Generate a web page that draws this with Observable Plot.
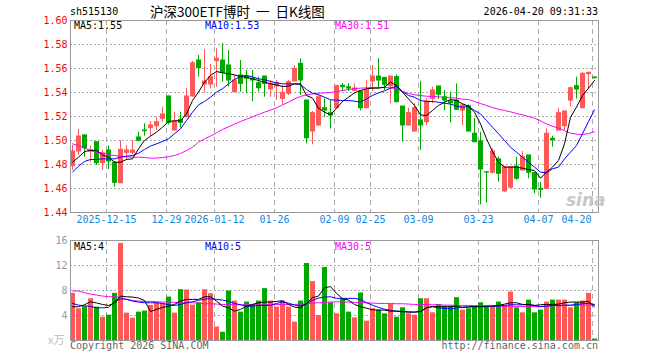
<!DOCTYPE html>
<html><head><meta charset="utf-8">
<script src="https://cdn.jsdelivr.net/npm/d3@7"></script>
<script src="https://cdn.jsdelivr.net/npm/@observablehq/plot@0.6"></script>
<style>
body{margin:0;background:#fff;}
#c{position:relative;width:660px;height:360px;overflow:hidden;background:#fff;font-family:"DejaVu Sans Mono",monospace;}
.t{position:absolute;white-space:pre;font-size:10px;line-height:12px;}
#main,#vol{position:absolute;left:0;}
#main{top:0px}
#vol{top:232px}
</style></head><body>
<div id="c">
  <div id="main"></div>
  <div id="vol"></div>
  <div class="t" style="left:70px;top:6px;color:#000">sh515130</div>
  <div class="t" style="left:150px;top:3px;font-size:13.5px;line-height:17px;font-family:'Noto Sans CJK SC',sans-serif;color:#000">沪深300ETF博时  一  日K线图</div>
  <div class="t" style="right:62px;top:6px;color:#000">2026-04-20 09:31:33</div>
  <div class="t" style="left:74px;top:20px;color:#000">MA5:1.55</div>
  <div class="t" style="left:205px;top:20px;color:#0000ff">MA10:1.53</div>
  <div class="t" style="left:335px;top:20px;color:#ff00ff">MA30:1.51</div>
  <div class="t" style="left:74px;top:241px;color:#000">MA5:4</div>
  <div class="t" style="left:205px;top:241px;color:#0000ff">MA10:5</div>
  <div class="t" style="left:335px;top:241px;color:#ff00ff">MA30:5</div>
  <div class="t" style="left:48px;top:333px;color:#bbb;font-family:'Noto Sans CJK SC',sans-serif;font-size:11px">x万</div>
  <div class="t" style="left:70px;top:340px;color:#666">Copyright 2026 SINA.COM</div>
  <div class="t" style="right:62px;top:340px;color:#666">http://finance.sina.com.cn</div>
  <div class="t" style="left:566px;top:190px;color:#c8c8c8;font-family:'DejaVu Sans',sans-serif;font-size:17px;line-height:20px;font-style:italic;font-weight:bold">sina</div>
</div>
<script>
// ---- data ----
const tickIdx = [6, 16, 24, 34, 44, 50, 58, 68, 78, 87];
const tickLabels = ["2025-12-15","12-29","2026-01-12","01-26","02-09","02-25","03-09","03-23","04-07","04-20"];
const priceTicks = [1.44,1.46,1.48,1.50,1.52,1.54,1.56,1.58,1.60];
const volTicks = [4,8,12,16];

const open = [1.4786,1.4908,1.5042,1.4908,1.4986,1.4811,1.4917,1.4814,1.4644,1.4897,
1.4897,1.5025,1.5083,1.5103,1.5119,1.5180,1.5367,1.5083,1.5172,1.5194,
1.5367,1.5667,1.5467,1.5467,1.5661,1.5667,1.5625,1.5403,1.5542,1.5528,
1.5514,1.5478,1.5533,1.5425,1.5450,1.5347,1.5389,1.5492,1.5639,1.5333,
1.5075,1.5125,1.5269,1.5228,1.5269,1.5456,1.5444,1.5414,1.5408,1.5269,
1.5492,1.5533,1.5522,1.5453,1.5528,1.5283,1.5125,1.5075,1.5167,1.5153,
1.5347,1.5450,1.5361,1.5325,1.5333,1.5250,1.5286,1.5056,1.4992,1.4736,
1.4731,1.4842,1.4575,1.4606,1.4783,1.4750,1.4875,1.4728,1.4597,1.4597,
1.5014,1.5083,1.5119,1.5333,1.5453,1.5269,1.5553,1.5525];
const high = [1.4958,1.5092,1.5050,1.4953,1.4990,1.4917,1.4953,1.4825,1.5000,1.4958,
1.5000,1.5069,1.5139,1.5158,1.5194,1.5278,1.5370,1.5236,1.5236,1.5436,
1.5658,1.5708,1.5758,1.5633,1.5764,1.5806,1.5750,1.5542,1.5667,1.5583,
1.5583,1.5528,1.5535,1.5500,1.5500,1.5458,1.5500,1.5625,1.5681,1.5336,
1.5242,1.5381,1.5347,1.5333,1.5460,1.5475,1.5472,1.5472,1.5410,1.5500,
1.5625,1.5681,1.5525,1.5535,1.5547,1.5285,1.5269,1.5306,1.5492,1.5347,
1.5444,1.5452,1.5417,1.5403,1.5472,1.5306,1.5297,1.5181,1.5069,1.4738,
1.4931,1.4861,1.4786,1.4780,1.4861,1.4908,1.4877,1.4730,1.4653,1.5097,
1.5036,1.5269,1.5245,1.5444,1.5528,1.5564,1.5569,1.5530];
const low = [1.4750,1.4875,1.4861,1.4819,1.4792,1.4750,1.4758,1.4611,1.4640,1.4833,
1.4880,1.4990,1.5036,1.5036,1.5083,1.5153,1.5128,1.5080,1.5103,1.5190,
1.5360,1.5528,1.5397,1.5431,1.5444,1.5486,1.5444,1.5400,1.5403,1.5389,
1.5325,1.5403,1.5361,1.5361,1.5333,1.5297,1.5375,1.5490,1.5375,1.4972,
1.4964,1.5120,1.5194,1.5097,1.5261,1.5408,1.5408,1.5410,1.5247,1.5265,
1.5408,1.5431,1.5417,1.5306,1.5314,1.4986,1.5120,1.5069,1.4917,1.5125,
1.5306,1.5342,1.5247,1.5147,1.5250,1.5125,1.5070,1.4981,1.4464,1.4478,
1.4719,1.4653,1.4569,1.4603,1.4667,1.4748,1.4681,1.4556,1.4519,1.4589,
1.4944,1.5080,1.5083,1.5278,1.5347,1.5265,1.5431,1.5515];
const close = [1.4908,1.5033,1.4936,1.4919,1.4811,1.4894,1.4825,1.4647,1.4922,1.4917,
1.4917,1.4997,1.5078,1.5125,1.5153,1.5217,1.5147,1.5158,1.5147,1.5367,
1.5644,1.5603,1.5492,1.5528,1.5681,1.5564,1.5500,1.5500,1.5472,1.5514,
1.5500,1.5436,1.5472,1.5472,1.5478,1.5397,1.5486,1.5597,1.5500,1.5019,
1.5228,1.5361,1.5250,1.5208,1.5453,1.5444,1.5433,1.5433,1.5269,1.5419,
1.5533,1.5500,1.5464,1.5533,1.5319,1.5125,1.5228,1.5269,1.5125,1.5325,
1.5417,1.5381,1.5333,1.5311,1.5256,1.5292,1.5075,1.4986,1.4758,1.4733,
1.4908,1.4722,1.4778,1.4778,1.4681,1.4861,1.4731,1.4592,1.4589,1.5056,
1.5003,1.5228,1.5242,1.5436,1.5425,1.5556,1.5564,1.5519];

const ma5 = [1.4819,1.4861,1.4908,1.4917,1.4917,1.4880,1.4861,1.4819,1.4819,1.4842,
1.4847,1.4931,1.5000,1.5036,1.5069,1.5111,1.5158,1.5164,1.5164,1.5222,
1.5333,1.5403,1.5486,1.5542,1.5575,1.5564,1.5556,1.5547,1.5533,1.5528,
1.5514,1.5500,1.5486,1.5472,1.5464,1.5450,1.5453,1.5472,1.5472,1.5375,
1.5353,1.5269,1.5236,1.5214,1.5269,1.5325,1.5361,1.5397,1.5417,1.5431,
1.5436,1.5436,1.5444,1.5486,1.5458,1.5403,1.5347,1.5292,1.5214,1.5208,
1.5250,1.5292,1.5319,1.5342,1.5333,1.5306,1.5286,1.5236,1.5139,1.5014,
1.4908,1.4819,1.4778,1.4778,1.4778,1.4769,1.4758,1.4750,1.4686,1.4736,
1.4778,1.4833,1.4972,1.5194,1.5278,1.5375,1.5436,1.5500];
const ma10 = [1.4736,1.4786,1.4825,1.4842,1.4842,1.4847,1.4847,1.4847,1.4861,1.4869,
1.4875,1.4894,1.4925,1.4953,1.4972,1.4992,1.5014,1.5056,1.5097,1.5167,
1.5236,1.5297,1.5325,1.5361,1.5403,1.5431,1.5472,1.5508,1.5536,1.5542,
1.5531,1.5514,1.5506,1.5492,1.5481,1.5472,1.5472,1.5472,1.5467,1.5425,
1.5394,1.5381,1.5361,1.5339,1.5336,1.5333,1.5333,1.5328,1.5319,1.5347,
1.5375,1.5397,1.5414,1.5436,1.5453,1.5408,1.5375,1.5361,1.5333,1.5325,
1.5325,1.5319,1.5311,1.5303,1.5286,1.5278,1.5283,1.5250,1.5222,1.5167,
1.5111,1.5056,1.5000,1.4944,1.4903,1.4861,1.4819,1.4778,1.4736,1.4731,
1.4764,1.4778,1.4847,1.4903,1.4958,1.5056,1.5158,1.5255];
const ma30 = [1.4972,1.4958,1.4936,1.4917,1.4903,1.4894,1.4881,1.4875,1.4869,1.4864,
1.4861,1.4861,1.4858,1.4853,1.4853,1.4858,1.4864,1.4875,1.4892,1.4917,
1.4944,1.4986,1.5014,1.5036,1.5064,1.5092,1.5114,1.5136,1.5158,1.5178,
1.5197,1.5217,1.5236,1.5253,1.5272,1.5297,1.5319,1.5347,1.5367,1.5381,
1.5389,1.5394,1.5397,1.5400,1.5408,1.5417,1.5425,1.5433,1.5436,1.5439,
1.5442,1.5442,1.5442,1.5439,1.5431,1.5408,1.5392,1.5381,1.5375,1.5369,
1.5367,1.5364,1.5358,1.5356,1.5353,1.5344,1.5342,1.5325,1.5308,1.5292,
1.5275,1.5261,1.5250,1.5239,1.5225,1.5214,1.5200,1.5186,1.5164,1.5139,
1.5119,1.5103,1.5081,1.5061,1.5053,1.5050,1.5058,1.5072];

const volume = [7.54,5.07,5.40,6.68,5.34,3.73,4.05,7.54,15.54,4.38,
3.57,4.54,4.70,5.61,6.04,5.93,6.95,4.38,8.13,8.08,
5.66,6.04,8.13,7.49,2.17,1.32,7.92,6.31,4.54,6.15,
5.77,6.31,8.30,6.31,5.34,6.31,5.34,2.93,6.31,12.32,
9.42,4.00,11.68,6.04,4.27,6.58,4.54,3.62,7.60,3.09,
5.07,4.86,4.27,5.77,3.73,5.23,4.27,4.05,6.68,6.68,
4.43,5.77,5.50,5.50,6.85,4.86,5.07,5.50,6.04,5.40,
5.50,6.15,5.50,7.76,5.23,4.43,6.47,4.43,4.86,6.15,
6.47,6.47,6.47,5.23,6.04,6.31,7.54,0.24];
const vma5 = [5.40,5.40,5.72,6.20,6.01,5.77,5.60,6.00,7.11,7.00,
6.95,6.80,6.40,4.64,4.97,5.29,5.50,5.77,6.31,6.58,
6.58,6.58,7.00,7.00,6.31,5.50,5.23,4.70,4.97,5.50,
5.77,6.04,6.15,6.15,6.26,6.36,5.77,5.34,5.23,5.93,
6.85,7.11,8.46,8.62,7.54,6.68,6.47,5.77,5.40,5.18,
4.91,4.86,4.86,4.70,4.70,4.64,4.54,4.54,4.64,5.23,
5.45,5.40,5.40,5.40,5.50,5.29,5.34,5.45,5.45,5.50,
5.50,5.61,5.82,6.04,6.04,5.77,5.77,5.61,5.72,5.77,
5.77,5.82,6.04,6.15,6.15,6.15,6.26,5.40];
const vma10 = [5.93,5.66,5.56,5.45,5.23,5.23,5.29,6.20,6.68,6.58,
6.31,6.15,6.04,6.04,6.04,5.93,5.72,5.61,5.77,6.04,
6.20,6.42,6.63,6.68,6.58,6.47,6.26,5.93,5.72,5.45,
5.50,5.61,5.61,5.61,5.93,6.15,5.99,5.66,5.56,5.88,
6.42,6.79,6.95,7.00,6.74,6.74,6.74,6.74,6.58,6.04,
5.66,5.29,5.02,4.81,4.70,4.59,4.59,4.54,4.64,5.23,
5.40,5.23,5.13,5.07,5.18,5.34,5.40,5.40,5.40,5.40,
5.50,5.50,5.61,5.72,5.72,5.72,5.72,5.61,5.40,5.50,
5.61,5.61,5.66,5.66,5.77,5.88,5.93,5.77];
const vma30 = [7.92,7.92,7.65,7.44,7.28,7.11,7.01,7.01,6.90,6.58,
6.42,6.31,6.26,6.26,6.20,6.15,6.15,6.09,6.04,6.04,
6.04,5.99,5.88,5.88,5.83,5.77,5.77,5.72,5.72,5.72,
5.72,5.72,5.72,5.77,5.77,5.72,5.77,5.77,5.83,5.88,
5.99,6.04,6.09,6.15,6.20,6.15,6.15,6.09,6.09,6.04,
5.99,5.93,5.93,5.93,5.88,5.88,5.83,5.77,5.77,5.72,
5.72,5.72,5.66,5.66,5.61,5.61,5.61,5.56,5.56,5.56,
5.50,5.50,5.50,5.50,5.45,5.45,5.40,5.45,5.45,5.50,
5.56,5.56,5.61,5.61,5.66,5.66,5.66,5.66];

// ---- build ----
const RED = "#ff5858", GREEN = "#00a800", BLUE_TXT = "#1188dd", GRID = "#aaaaaa", FRAME = "#999999";
const N = open.length;
const rows = d3.range(N).map(i => ({i, o: open[i], h: high[i], l: low[i], c: close[i], v: volume[i]}));
const col = d => d.c >= d.o ? RED : GREEN;
const mid = d => d.i + 1/3;
const series = arr => arr.map((v, i) => ({i, v}));
const FONT = {fontFamily: "DejaVu Sans Mono, monospace", fontSize: "10px", background: "transparent", overflow: "visible"};

const mainPlot = Plot.plot({
  width: 660, height: 232,
  marginLeft: 70, marginRight: 62, marginTop: 20, marginBottom: 20,
  style: FONT,
  x: {domain: [0, 88], axis: null},
  y: {domain: [1.44, 1.60], axis: null},
  marks: [
    Plot.ruleY(priceTicks.slice(1, -1), {stroke: GRID, strokeDasharray: "2,2"}),
    Plot.ruleX(tickIdx, {stroke: GRID, strokeDasharray: "5,4"}),
    Plot.ruleX(rows, {x: mid, y1: "l", y2: "h", stroke: col}),
    Plot.rect(rows, {x1: "i", x2: d => d.i + 1, y1: "o", y2: "c", fill: col, insetRight: 1, insetTop: -0.5, insetBottom: -0.5}),
    Plot.line(series(ma30), {x: d => d.i + 1/3, y: "v", stroke: "#ff00ff", strokeWidth: 1}),
    Plot.line(series(ma10), {x: d => d.i + 1/3, y: "v", stroke: "#0000ff", strokeWidth: 1}),
    Plot.line(series(ma5), {x: d => d.i + 1/3, y: "v", stroke: "#000000", strokeWidth: 1}),
    Plot.frame({stroke: FRAME}),
    Plot.axisY(priceTicks, {tickFormat: d => d.toFixed(2), tickSize: 0, tickPadding: 3, color: "#ff0000", fontSize: 10, label: null}),
    Plot.text(tickIdx.slice(0, -1), {x: d => d, text: (d, k) => tickLabels[k], frameAnchor: "bottom", dy: 10, fill: BLUE_TXT}),
    Plot.text(tickIdx.slice(-1), {x: d => d, text: () => tickLabels[tickLabels.length - 1], frameAnchor: "bottom", dy: 10, dx: -1, textAnchor: "end", fill: BLUE_TXT})
  ]
});
document.getElementById("main").append(mainPlot);

const volPlot = Plot.plot({
  width: 660, height: 128,
  marginLeft: 70, marginRight: 62, marginTop: 8, marginBottom: 20,
  style: FONT,
  x: {domain: [0, 88], axis: null},
  y: {domain: [0, 16], axis: null},
  marks: [
    Plot.ruleY([4, 8, 12], {stroke: GRID, strokeDasharray: "2,2"}),
    Plot.ruleX(tickIdx, {stroke: GRID, strokeDasharray: "5,4"}),
    Plot.rect(rows, {x1: "i", x2: d => d.i + 1, y1: 0, y2: "v", fill: col, insetRight: 1}),
    Plot.line(series(vma30), {x: d => d.i + 1/3, y: "v", stroke: "#ff00ff", strokeWidth: 1}),
    Plot.line(series(vma10), {x: d => d.i + 1/3, y: "v", stroke: "#0000ff", strokeWidth: 1}),
    Plot.line(series(vma5), {x: d => d.i + 1/3, y: "v", stroke: "#000000", strokeWidth: 1}),
    Plot.frame({stroke: FRAME}),
    Plot.axisY(volTicks, {tickSize: 0, tickPadding: 3, color: "#999999", fontSize: 10, label: null})
  ]
});
document.getElementById("vol").append(volPlot);
</script>
</body></html>
